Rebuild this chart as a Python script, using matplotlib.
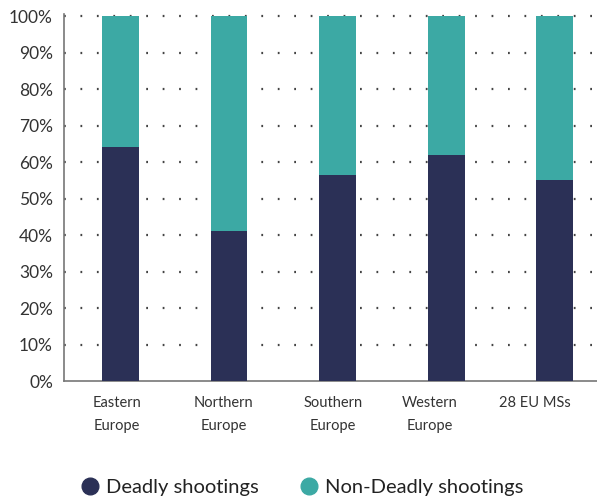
import numpy as np
import matplotlib.pyplot as plt
from matplotlib.lines import Line2D

# Share of shootings by region (%)
regions = ["Eastern\nEurope", "Northern\nEurope", "Southern\nEurope", "Western\nEurope", "28 EU MSs"]
deadly = [64.2, 41.1, 56.4, 61.9, 55.1]
non_deadly = [100 - v for v in deadly]

navy = "#2b3056"
teal = "#3ca9a4"

plt.rcParams["font.family"] = ["Lato", "DejaVu Sans"]

fig = plt.figure(figsize=(5.97, 4.98), dpi=100)
ax = fig.add_axes([64 / 597, 117 / 498, 1 - 64 / 597, 367 / 498])

x = np.arange(len(regions))
ax.bar(x, deadly, width=0.34, color=navy, zorder=3)
ax.bar(x, non_deadly, bottom=deadly, width=0.34, color=teal, zorder=3)

ax.set_xlim(-0.52, 4.39)
ax.set_ylim(0, 100.55)
ax.set_yticks(np.arange(0, 101, 10))
ax.set_yticklabels([f"{v}%" for v in range(0, 101, 10)], fontsize=12.5, color="#333333")

# dotted gridlines
for v in range(10, 101, 10):
    ax.axhline(v, color="#444444", linestyle=(0, (0.8, 6.6)), linewidth=1.6, zorder=1)

label_shift = [-0.03, -0.05, -0.04, -0.15, -0.18]
ax.set_xticks(x + np.array(label_shift))
ax.set_xticklabels(regions, fontsize=10.5, color="#333333", linespacing=1.75, va="top")
ax.tick_params(axis="both", length=0)
ax.tick_params(axis="x", pad=11)
ax.tick_params(axis="y", pad=8)

for s in ["top", "right"]:
    ax.spines[s].set_visible(False)
for s in ["left", "bottom"]:
    ax.spines[s].set_color("#777777")
    ax.spines[s].set_linewidth(1.2)

handles = [
    Line2D([], [], marker="o", linestyle="", markersize=12, color=navy, label="Deadly shootings"),
    Line2D([], [], marker="o", linestyle="", markersize=12, color=teal, label="Non-Deadly shootings"),
]
fig.legend(handles=handles, loc="center", bbox_to_anchor=(0.505, 0.022), ncol=2, frameon=False,
           fontsize=14.5, handlelength=1.0, handletextpad=0.3, columnspacing=2.0,
           labelcolor="#222222")

fig.savefig("out.png", dpi=100)
